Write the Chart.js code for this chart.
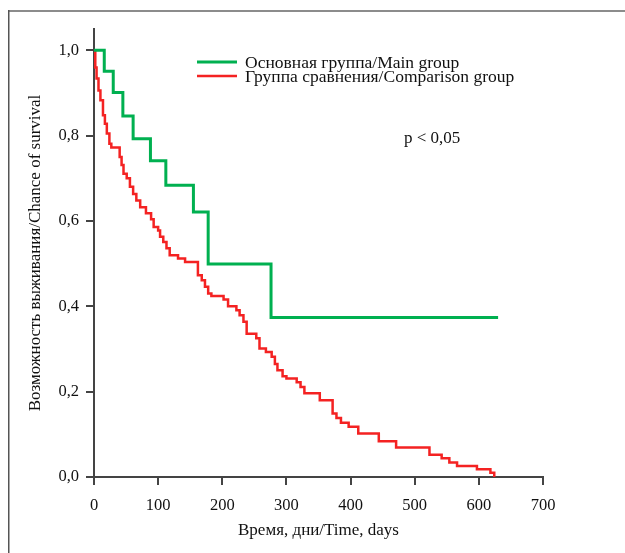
<!DOCTYPE html>
<html>
<head>
<meta charset="utf-8">
<script src="https://cdn.jsdelivr.net/npm/chart.js@4.4.1/dist/chart.umd.min.js"></script>
<style>
  html, body { margin: 0; padding: 0; background: #fff; }
  #wrap { position: relative; width: 625px; height: 553px; }
</style>
</head>
<body>
<div id="wrap"><canvas id="c" width="625" height="553"></canvas></div>
<script>
// ---- Data ----
const seriesLabels = ["Основная группа/Main group", "Группа сравнения/Comparison group"];

const mainTimes = [0, 16, 30, 45, 61, 88, 112, 155, 178, 276, 630];
const mainSurv  = [1.0, 0.951, 0.901, 0.846, 0.793, 0.741, 0.684, 0.621, 0.499, 0.374, 0.374];

const compTimes = [0, 2, 4, 7, 10, 14, 17, 20, 24, 27, 40, 43, 46, 51, 56, 61, 66, 72, 81, 89,
                   93, 100, 103, 108, 113, 118, 131, 142, 162, 168, 173, 178, 183, 202, 209, 222,
                   227, 233, 238, 253, 258, 268, 277, 282, 286, 294, 300, 316, 322, 328, 352, 372,
                   378, 385, 397, 412, 444, 471, 523, 542, 554, 566, 597, 618, 624];
const compSurv  = [1.0, 0.96, 0.934, 0.906, 0.883, 0.848, 0.828, 0.805, 0.781, 0.772, 0.750, 0.731,
                   0.711, 0.700, 0.680, 0.663, 0.648, 0.632, 0.618, 0.604, 0.586, 0.578, 0.563,
                   0.551, 0.536, 0.520, 0.512, 0.504, 0.473, 0.461, 0.446, 0.430, 0.424, 0.416,
                   0.400, 0.391, 0.379, 0.364, 0.336, 0.325, 0.301, 0.293, 0.282, 0.265, 0.250,
                   0.236, 0.231, 0.222, 0.211, 0.196, 0.180, 0.149, 0.138, 0.127, 0.118, 0.102,
                   0.084, 0.069, 0.052, 0.044, 0.034, 0.026, 0.018, 0.010, 0.0];

const xTicks = [0, 100, 200, 300, 400, 500, 600, 700];
const yTicks = [0, 0.2, 0.4, 0.6, 0.8, 1.0];
const xTitle = "Время, дни/Time, days";
const yTitle = "Возможность выживания/Chance of survival";
const pText = "p < 0,05";

const GREEN = "#00b050";
const RED = "#f42222";
const FONT = "'Liberation Serif', 'DejaVu Serif', serif";

Chart.defaults.font.family = FONT;
Chart.defaults.color = "#111";

const toXY = (ts, vs) => ts.map((t, i) => ({ x: t, y: vs[i] }));

const overlay = {
  id: 'overlay',
  beforeDraw(chart) {
    const ctx = chart.ctx;
    ctx.save();
    ctx.fillStyle = '#8c8c8c';
    ctx.fillRect(9, 10, 616, 2);
    ctx.fillStyle = '#555';
    ctx.fillRect(8, 10, 1.5, 543);
    ctx.restore();
  },
  afterDatasetsDraw(chart) {
    const ctx = chart.ctx;
    ctx.save();
    const ds = chart.data.datasets;
    const rows = [62, 76];
    ctx.font = "17.5px " + FONT;
    ctx.textBaseline = 'middle';
    ctx.textAlign = 'left';
    ds.forEach((d, i) => {
      ctx.strokeStyle = d.borderColor;
      ctx.lineWidth = d.borderWidth;
      ctx.beginPath();
      ctx.moveTo(197, rows[i]);
      ctx.lineTo(237, rows[i]);
      ctx.stroke();
      ctx.fillStyle = '#111';
      ctx.fillText(d.label, 245, rows[i] + 1);
    });
    ctx.font = "17px " + FONT;
    ctx.fillText(pText, 404, 139);
    ctx.restore();
  }
};

new Chart(document.getElementById('c'), {
  type: 'line',
  data: {
    datasets: [
      { label: seriesLabels[0], data: toXY(mainTimes, mainSurv), borderColor: GREEN,
        borderWidth: 3, stepped: true, pointRadius: 0, fill: false },
      { label: seriesLabels[1], data: toXY(compTimes, compSurv), borderColor: RED,
        borderWidth: 2.5, stepped: true, pointRadius: 0, fill: false }
    ]
  },
  options: {
    responsive: false,
    animation: false,
    devicePixelRatio: 1,
    layout: { padding: { left: 0, top: 29, right: 82, bottom: 0 } },
    plugins: { legend: { display: false }, tooltip: { enabled: false } },
    scales: {
      x: {
        type: 'linear', min: 0, max: 700,
        afterFit(s) { s.height = 76; },
        afterBuildTicks(s) { s.ticks = xTicks.map(v => ({ value: v })); },
        ticks: { font: { size: 16.5 }, color: '#111', padding: 11, maxRotation: 0 },
        grid: { drawOnChartArea: false, drawTicks: true, tickLength: 8, color: '#444', lineWidth: 2 },
        border: { display: true, color: '#444', width: 2 },
        title: { display: true, text: xTitle, font: { size: 17 }, color: '#111', padding: { top: 0, bottom: 12 } }
      },
      y: {
        type: 'linear', min: 0, max: 1.05,
        afterFit(s) { s.width = 94; },
        afterBuildTicks(s) { s.ticks = yTicks.map(v => ({ value: v })); },
        ticks: { font: { size: 16.5 }, color: '#111', padding: 7,
                 callback: v => v.toFixed(1).replace('.', ',') },
        grid: { drawOnChartArea: false, drawTicks: true, tickLength: 8, color: '#444', lineWidth: 2 },
        border: { display: true, color: '#444', width: 2 },
        title: { display: true, text: yTitle, font: { size: 17 }, color: '#111', padding: { top: 25, bottom: 0 } }
      }
    }
  },
  plugins: [overlay]
});
</script>
</body>
</html>
